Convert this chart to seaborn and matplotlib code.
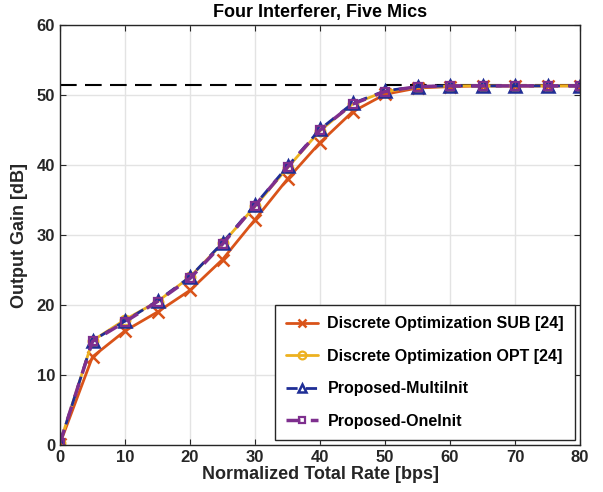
import numpy as np
import pandas as pd
import matplotlib
matplotlib.use("Agg")
import matplotlib.pyplot as plt
import seaborn as sns

# ===== 데이터 =====
rate = [0, 5, 10, 15, 20, 25, 30, 35, 40, 45, 50, 55, 60, 65, 70, 75, 80]
sub = [0.2, 12.6, 16.3, 19.0, 22.1, 26.5, 32.2, 38.0, 43.2, 47.6, 50.1, 51.0, 51.2, 51.3, 51.3, 51.3, 51.3]
opt = [0.3, 14.9, 17.9, 20.5, 24.0, 28.8, 34.1, 39.6, 44.9, 48.7, 50.5, 51.1, 51.3, 51.3, 51.3, 51.3, 51.3]
multi = [0.3, 14.9, 17.7, 20.6, 24.0, 28.9, 34.3, 39.8, 45.1, 48.8, 50.6, 51.2, 51.3, 51.3, 51.3, 51.3, 51.3]
one = [0.3, 14.8, 17.6, 20.5, 23.8, 28.7, 34.2, 39.7, 45.0, 48.7, 50.5, 51.2, 51.3, 51.3, 51.3, 51.3, 51.3]
upper_bound = 51.4

sns.set_style("whitegrid")
plt.rcParams["font.family"] = ["Liberation Sans", "DejaVu Sans"]
plt.rcParams["font.weight"] = "bold"
plt.rcParams["text.color"] = "#262626"
plt.rcParams["axes.labelcolor"] = "#262626"

fig = plt.figure(figsize=(6.03, 4.92), dpi=100)
ax = fig.add_axes([60 / 603, 47 / 492, 520 / 603, 420 / 492])

ax.axhline(upper_bound, color="black", lw=1.5, ls=(0, (8, 4)), zorder=1)

c_sub, c_opt, c_multi, c_one = "#D95319", "#EDB120", "#1F2E96", "#7E2F8E"
sns.lineplot(x=rate, y=sub, ax=ax, color=c_sub, lw=2, marker="x", markersize=8,
             markeredgecolor=c_sub, markeredgewidth=1.8, label="Discrete Optimization SUB [24]")
sns.lineplot(x=rate, y=opt, ax=ax, color=c_opt, lw=2, marker="o", markersize=7,
             markerfacecolor="none", markeredgecolor=c_opt, markeredgewidth=1.6,
             label="Discrete Optimization OPT [24]")
sns.lineplot(x=rate, y=multi, ax=ax, color=c_multi, lw=2, ls=(0, (4, 3)), marker="^",
             markersize=8, markerfacecolor="none", markeredgecolor=c_multi,
             markeredgewidth=1.8, label="Proposed-MultiInit")
sns.lineplot(x=rate, y=one, ax=ax, color=c_one, lw=2.5, ls=(0, (4, 3)), marker="s",
             markersize=6, markerfacecolor="none", markeredgecolor=c_one,
             markeredgewidth=1.6, label="Proposed-OneInit")

ax.set_xlim(0, 80)
ax.set_ylim(0, 60)
ax.set_xticks(range(0, 81, 10))
ax.set_yticks(range(0, 61, 10))
ax.grid(True, color="#E3E3E3", lw=1)
for s in ax.spines.values():
    s.set_color("#262626")
    s.set_linewidth(1)
ax.tick_params(direction="in", length=4, top=True, right=True, labelsize=12,
               colors="#262626", labelcolor="#262626")
ax.tick_params(axis="both", which="both", bottom=True, left=True)

ax.set_title("Four Interferer, Five Mics", fontsize=13, fontweight="bold", pad=6, color="black")
ax.set_xlabel("Normalized Total Rate [bps]", fontsize=13, fontweight="bold", labelpad=1)
ax.set_ylabel("Output Gain [dB]", fontsize=13, fontweight="bold", labelpad=6)

leg = ax.legend(loc="lower right", fontsize=11.5, frameon=True, fancybox=False,
                edgecolor="#262626", framealpha=1, borderpad=0.7, labelspacing=1.1,
                handlelength=2.0, handletextpad=0.6, borderaxespad=0.3,
                markerscale=0.8)
leg.get_frame().set_linewidth(1)
for t in leg.get_texts():
    t.set_color("black")

plt.savefig("out.png", dpi=100)
plt.close()
